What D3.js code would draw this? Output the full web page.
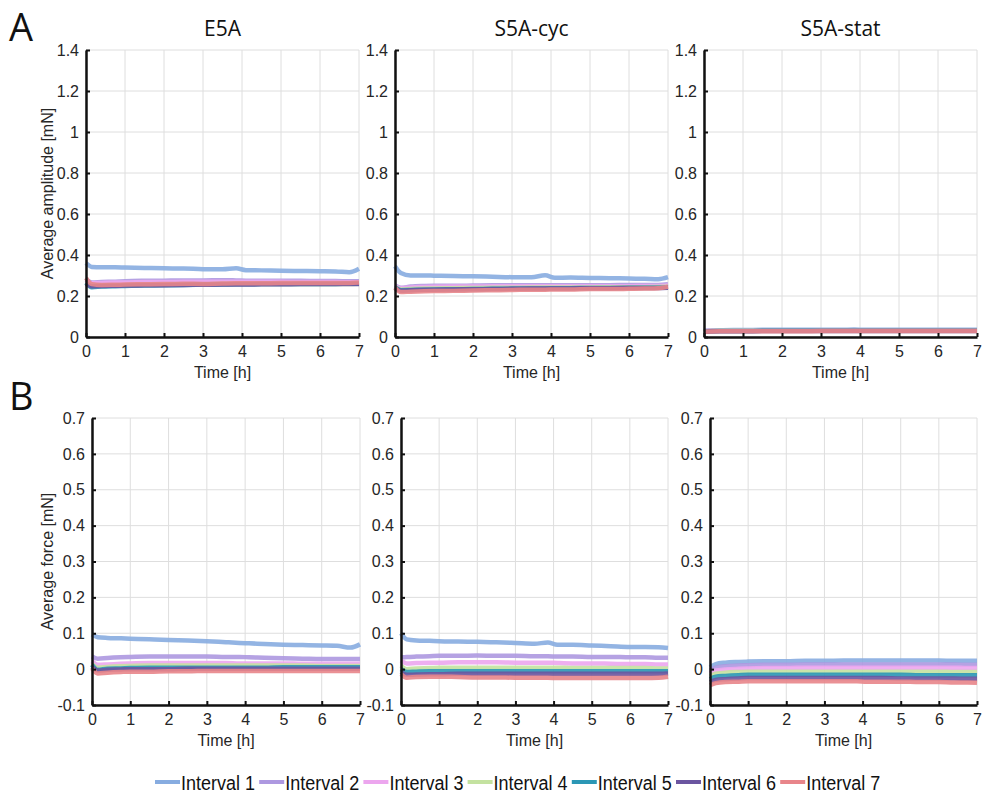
<!DOCTYPE html>
<html>
<head>
<meta charset="utf-8">
<script src="https://cdn.jsdelivr.net/npm/d3@7"></script>
<style>
  body { margin: 0; background: #fff; }
</style>
</head>
<body>
<div id="chart"></div>
<script>
var hours = [0, 0.15, 0.4, 0.75, 1, 1.5, 2, 2.5, 3, 3.5, 3.85, 4.1, 4.5, 5, 5.5, 6, 6.4, 6.75, 7];
var intervals = ["Interval 1", "Interval 2", "Interval 3", "Interval 4", "Interval 5", "Interval 6", "Interval 7"];
var colors = ["#87ace0", "#ad98e0", "#eca6ee", "#c4e2a0", "#2b97b5", "#6b55a0", "#e8858a"];
var groups = ["E5A", "S5A-cyc", "S5A-stat"];
var hourTicks = [0, 1, 2, 3, 4, 5, 6, 7];
var ampTicks = [0, 0.2, 0.4, 0.6, 0.8, 1, 1.2, 1.4];
var forceTicks = [-0.1, 0, 0.1, 0.2, 0.3, 0.4, 0.5, 0.6, 0.7];

var ampE5A = [
  [0.360,0.342,0.340,0.340,0.339,0.337,0.335,0.334,0.331,0.330,0.335,0.326,0.325,0.323,0.322,0.321,0.320,0.316,0.333],
  [0.280,0.266,0.268,0.270,0.272,0.274,0.275,0.276,0.276,0.277,0.276,0.275,0.275,0.274,0.274,0.273,0.273,0.272,0.272],
  [0.272,0.262,0.264,0.266,0.266,0.268,0.268,0.269,0.269,0.270,0.270,0.270,0.269,0.269,0.268,0.268,0.268,0.267,0.267],
  [0.262,0.250,0.251,0.252,0.253,0.254,0.255,0.256,0.257,0.258,0.258,0.258,0.259,0.259,0.259,0.259,0.259,0.259,0.260],
  [0.265,0.243,0.246,0.248,0.249,0.251,0.252,0.254,0.255,0.256,0.257,0.257,0.258,0.258,0.259,0.259,0.259,0.260,0.260],
  [0.258,0.248,0.249,0.250,0.251,0.252,0.253,0.254,0.255,0.256,0.256,0.256,0.257,0.257,0.258,0.258,0.258,0.258,0.259],
  [0.288,0.258,0.254,0.255,0.256,0.257,0.258,0.260,0.259,0.261,0.262,0.262,0.262,0.263,0.263,0.263,0.264,0.264,0.266]
];
var ampCyc = [
  [0.345,0.312,0.300,0.300,0.299,0.297,0.296,0.294,0.292,0.292,0.301,0.289,0.290,0.288,0.287,0.285,0.284,0.282,0.292],
  [0.252,0.240,0.246,0.249,0.250,0.250,0.251,0.252,0.252,0.253,0.253,0.253,0.253,0.253,0.253,0.254,0.254,0.254,0.258],
  [0.248,0.238,0.242,0.244,0.245,0.246,0.246,0.247,0.247,0.247,0.248,0.248,0.248,0.248,0.248,0.248,0.249,0.249,0.251],
  [0.245,0.232,0.234,0.236,0.237,0.238,0.239,0.240,0.240,0.241,0.241,0.242,0.242,0.242,0.243,0.243,0.243,0.244,0.245],
  [0.242,0.228,0.229,0.231,0.232,0.233,0.234,0.235,0.236,0.237,0.237,0.238,0.238,0.239,0.239,0.240,0.240,0.240,0.241],
  [0.238,0.226,0.228,0.230,0.231,0.232,0.233,0.234,0.235,0.236,0.236,0.237,0.237,0.238,0.238,0.239,0.239,0.239,0.240],
  [0.240,0.219,0.221,0.223,0.224,0.225,0.227,0.228,0.229,0.231,0.231,0.232,0.232,0.234,0.234,0.235,0.236,0.238,0.246]
];
var ampStat = [
  [0.030,0.032,0.033,0.034,0.034,0.035,0.035,0.035,0.035,0.035,0.036,0.035,0.035,0.035,0.035,0.035,0.035,0.035,0.035],
  [0.029,0.031,0.032,0.032,0.033,0.033,0.033,0.033,0.033,0.033,0.033,0.033,0.033,0.033,0.033,0.033,0.033,0.033,0.033],
  [0.028,0.030,0.031,0.031,0.031,0.032,0.032,0.032,0.032,0.032,0.032,0.032,0.032,0.032,0.032,0.032,0.032,0.032,0.032],
  [0.027,0.029,0.030,0.030,0.030,0.031,0.031,0.031,0.031,0.031,0.031,0.031,0.031,0.031,0.031,0.031,0.031,0.031,0.031],
  [0.026,0.028,0.029,0.029,0.029,0.030,0.030,0.030,0.030,0.030,0.030,0.030,0.030,0.030,0.030,0.030,0.030,0.030,0.030],
  [0.025,0.027,0.028,0.028,0.028,0.029,0.029,0.029,0.029,0.029,0.029,0.029,0.029,0.029,0.029,0.029,0.029,0.029,0.029],
  [0.026,0.027,0.028,0.028,0.028,0.028,0.028,0.028,0.029,0.029,0.029,0.029,0.029,0.029,0.029,0.029,0.029,0.029,0.029]
];
var forceE5A = [
  [0.097,0.089,0.087,0.086,0.085,0.083,0.081,0.080,0.078,0.075,0.073,0.072,0.070,0.068,0.067,0.066,0.065,0.060,0.069],
  [0.035,0.029,0.031,0.033,0.034,0.035,0.035,0.035,0.035,0.034,0.034,0.033,0.032,0.030,0.029,0.028,0.028,0.028,0.028],
  [0.022,0.012,0.013,0.015,0.016,0.017,0.017,0.017,0.017,0.017,0.016,0.016,0.016,0.016,0.015,0.015,0.015,0.015,0.015],
  [0.015,0.004,0.006,0.008,0.009,0.010,0.010,0.010,0.010,0.010,0.010,0.010,0.010,0.010,0.010,0.009,0.009,0.009,0.009],
  [0.012,-0.002,0.001,0.002,0.003,0.004,0.004,0.004,0.004,0.004,0.004,0.004,0.004,0.005,0.005,0.005,0.005,0.005,0.005],
  [0.006,-0.004,-0.002,-0.001,0.000,0.000,0.000,0.001,0.001,0.001,0.001,0.001,0.001,0.001,0.001,0.001,0.001,0.001,0.001],
  [0.002,-0.012,-0.010,-0.008,-0.007,-0.007,-0.006,-0.006,-0.005,-0.005,-0.005,-0.005,-0.005,-0.005,-0.005,-0.005,-0.005,-0.005,-0.005]
];
var forceCyc = [
  [0.100,0.083,0.080,0.079,0.078,0.077,0.076,0.075,0.073,0.071,0.074,0.068,0.068,0.066,0.064,0.062,0.062,0.061,0.059],
  [0.033,0.034,0.035,0.036,0.037,0.037,0.038,0.037,0.037,0.036,0.036,0.035,0.035,0.034,0.034,0.033,0.033,0.032,0.032],
  [0.024,0.016,0.017,0.018,0.018,0.019,0.019,0.019,0.018,0.018,0.018,0.017,0.016,0.016,0.015,0.014,0.014,0.013,0.013],
  [0.010,0.000,0.002,0.003,0.004,0.004,0.004,0.004,0.004,0.004,0.004,0.004,0.003,0.003,0.003,0.003,0.003,0.002,0.002],
  [0.000,-0.008,-0.007,-0.006,-0.006,-0.006,-0.006,-0.006,-0.006,-0.006,-0.006,-0.006,-0.006,-0.006,-0.006,-0.006,-0.006,-0.006,-0.006],
  [-0.008,-0.016,-0.015,-0.014,-0.014,-0.013,-0.013,-0.013,-0.013,-0.013,-0.013,-0.013,-0.013,-0.013,-0.013,-0.013,-0.013,-0.013,-0.012],
  [-0.014,-0.024,-0.022,-0.021,-0.021,-0.022,-0.023,-0.023,-0.024,-0.024,-0.024,-0.025,-0.025,-0.025,-0.025,-0.025,-0.025,-0.024,-0.021]
];
var forceStat = [
  [0.005,0.014,0.018,0.020,0.021,0.022,0.022,0.023,0.023,0.024,0.024,0.024,0.024,0.024,0.024,0.024,0.023,0.023,0.023],
  [-0.004,0.004,0.008,0.010,0.011,0.012,0.012,0.013,0.013,0.013,0.013,0.013,0.013,0.013,0.013,0.013,0.013,0.012,0.012],
  [-0.012,-0.004,-0.001,0.001,0.002,0.003,0.003,0.004,0.004,0.004,0.004,0.004,0.004,0.004,0.004,0.004,0.004,0.003,0.003],
  [-0.020,-0.013,-0.010,-0.008,-0.007,-0.007,-0.007,-0.007,-0.007,-0.007,-0.007,-0.007,-0.007,-0.007,-0.007,-0.007,-0.008,-0.008,-0.008],
  [-0.028,-0.021,-0.019,-0.017,-0.016,-0.016,-0.016,-0.016,-0.016,-0.016,-0.016,-0.016,-0.016,-0.016,-0.017,-0.017,-0.017,-0.017,-0.017],
  [-0.036,-0.030,-0.028,-0.026,-0.025,-0.025,-0.025,-0.025,-0.025,-0.025,-0.025,-0.025,-0.025,-0.026,-0.026,-0.026,-0.026,-0.027,-0.027],
  [-0.045,-0.039,-0.036,-0.035,-0.034,-0.034,-0.034,-0.034,-0.034,-0.034,-0.034,-0.035,-0.035,-0.035,-0.036,-0.036,-0.037,-0.037,-0.038]
];

var width = 982, height = 793;
var svg = d3.select("#chart").append("svg")
  .attr("width", width)
  .attr("height", height)
  .attr("font-family", "Liberation Sans");

var fmt = function(d) { return String(+d.toFixed(1)); };

// panel boxes: [x0, x1, yTop, yBottom]
var panels = [
  {box: [86, 359, 50, 337], data: ampE5A, domain: [0, 1.4], ticks: ampTicks, title: groups[0], ylabel: "Average amplitude [mN]"},
  {box: [395, 668, 50, 337], data: ampCyc, domain: [0, 1.4], ticks: ampTicks, title: groups[1]},
  {box: [704, 977, 50, 337], data: ampStat, domain: [0, 1.4], ticks: ampTicks, title: groups[2]},
  {box: [92, 360, 418, 705], data: forceE5A, domain: [-0.1, 0.7], ticks: forceTicks, ylabel: "Average force [mN]"},
  {box: [401, 668, 418, 705], data: forceCyc, domain: [-0.1, 0.7], ticks: forceTicks},
  {box: [710, 977, 418, 705], data: forceStat, domain: [-0.1, 0.7], ticks: forceTicks}
];

panels.forEach(function(p, i) {
  var x = d3.scaleLinear().domain([0, 7]).range([p.box[0], p.box[1]]);
  var y = d3.scaleLinear().domain(p.domain).range([p.box[3], p.box[2]]);
  var g = svg.append("g");

  // grid
  g.selectAll(".vg").data(hourTicks).enter().append("line")
    .attr("x1", function(d) { return x(d); }).attr("x2", function(d) { return x(d); })
    .attr("y1", p.box[2]).attr("y2", p.box[3])
    .attr("stroke", "#dedede").attr("stroke-width", 1);
  g.selectAll(".hg").data(p.ticks).enter().append("line")
    .attr("x1", p.box[0]).attr("x2", p.box[1])
    .attr("y1", function(d) { return y(d); }).attr("y2", function(d) { return y(d); })
    .attr("stroke", "#dedede").attr("stroke-width", 1);

  // lines
  var line = d3.line()
    .x(function(d, j) { return x(hours[j]); })
    .y(function(d) { return y(d); })
    .curve(d3.curveMonotoneX);
  g.selectAll(".series").data(p.data).enter().append("path")
    .attr("d", line)
    .attr("fill", "none")
    .attr("stroke", function(d, k) { return colors[k]; })
    .attr("stroke-width", 4.5)
    .attr("stroke-opacity", 0.9)
    .attr("stroke-linejoin", "round");

  // axes
  var xAxis = g.append("g")
    .attr("transform", "translate(0," + p.box[3] + ")")
    .call(d3.axisBottom(x).tickValues(hourTicks).tickFormat(fmt).tickSizeInner(-4).tickSizeOuter(0).tickPadding(9));
  var yAxis = g.append("g")
    .attr("transform", "translate(" + p.box[0] + ",0)")
    .call(d3.axisLeft(y).tickValues(p.ticks).tickFormat(fmt).tickSizeInner(-4).tickSizeOuter(0).tickPadding(7));
  [xAxis, yAxis].forEach(function(a) {
    a.attr("font-family", "Liberation Sans").attr("font-size", 16);
    a.select(".domain").attr("stroke", "#111").attr("stroke-width", 2.5);
    a.selectAll(".tick line").attr("stroke", "#111").attr("stroke-width", 2);
    a.selectAll(".tick text").attr("fill", "#262626");
  });

  g.append("text")
    .attr("x", (p.box[0] + p.box[1]) / 2)
    .attr("y", p.box[3] + 41)
    .attr("text-anchor", "middle")
    .attr("fill", "#262626")
    .attr("font-size", 16)
    .text("Time [h]");

  if (p.title) {
    g.append("text")
      .attr("x", (p.box[0] + p.box[1]) / 2)
      .attr("y", 36)
      .attr("text-anchor", "middle")
      .attr("fill", "#111")
      .attr("font-family", "Open Sans")
      .attr("font-size", 21)
      .text(p.title);
  }
  if (p.ylabel) {
    g.append("text")
      .attr("transform", "translate(53," + (p.box[2] + p.box[3]) / 2 + ") rotate(-90)")
      .attr("text-anchor", "middle")
      .attr("fill", "#262626")
      .attr("font-size", 16)
      .text(p.ylabel);
  }
});

// panel letters
svg.selectAll(".letter").data([["A", 41], ["B", 410]]).enter().append("text")
  .attr("x", 9).attr("y", function(d) { return d[1]; })
  .attr("font-family", "Open Sans")
  .attr("font-size", 38)
  .attr("fill", "#111")
  .text(function(d) { return d[0]; });

// legend
var legend = svg.append("g").attr("transform", "translate(155,782)");
var item = legend.selectAll(".item").data(intervals).enter().append("g")
  .attr("transform", function(d, i) { return "translate(" + (i * 104.2) + ",0)"; });
item.append("line")
  .attr("x1", 0).attr("x2", 25).attr("y1", 0).attr("y2", 0)
  .attr("stroke", function(d, i) { return colors[i]; })
  .attr("stroke-width", 4);
item.append("text")
  .attr("x", 26).attr("y", 7.5)
  .attr("textLength", 74)
  .attr("lengthAdjust", "spacingAndGlyphs")
  .attr("font-size", 20)
  .attr("fill", "#111")
  .text(function(d) { return d; });
</script>
</body>
</html>
